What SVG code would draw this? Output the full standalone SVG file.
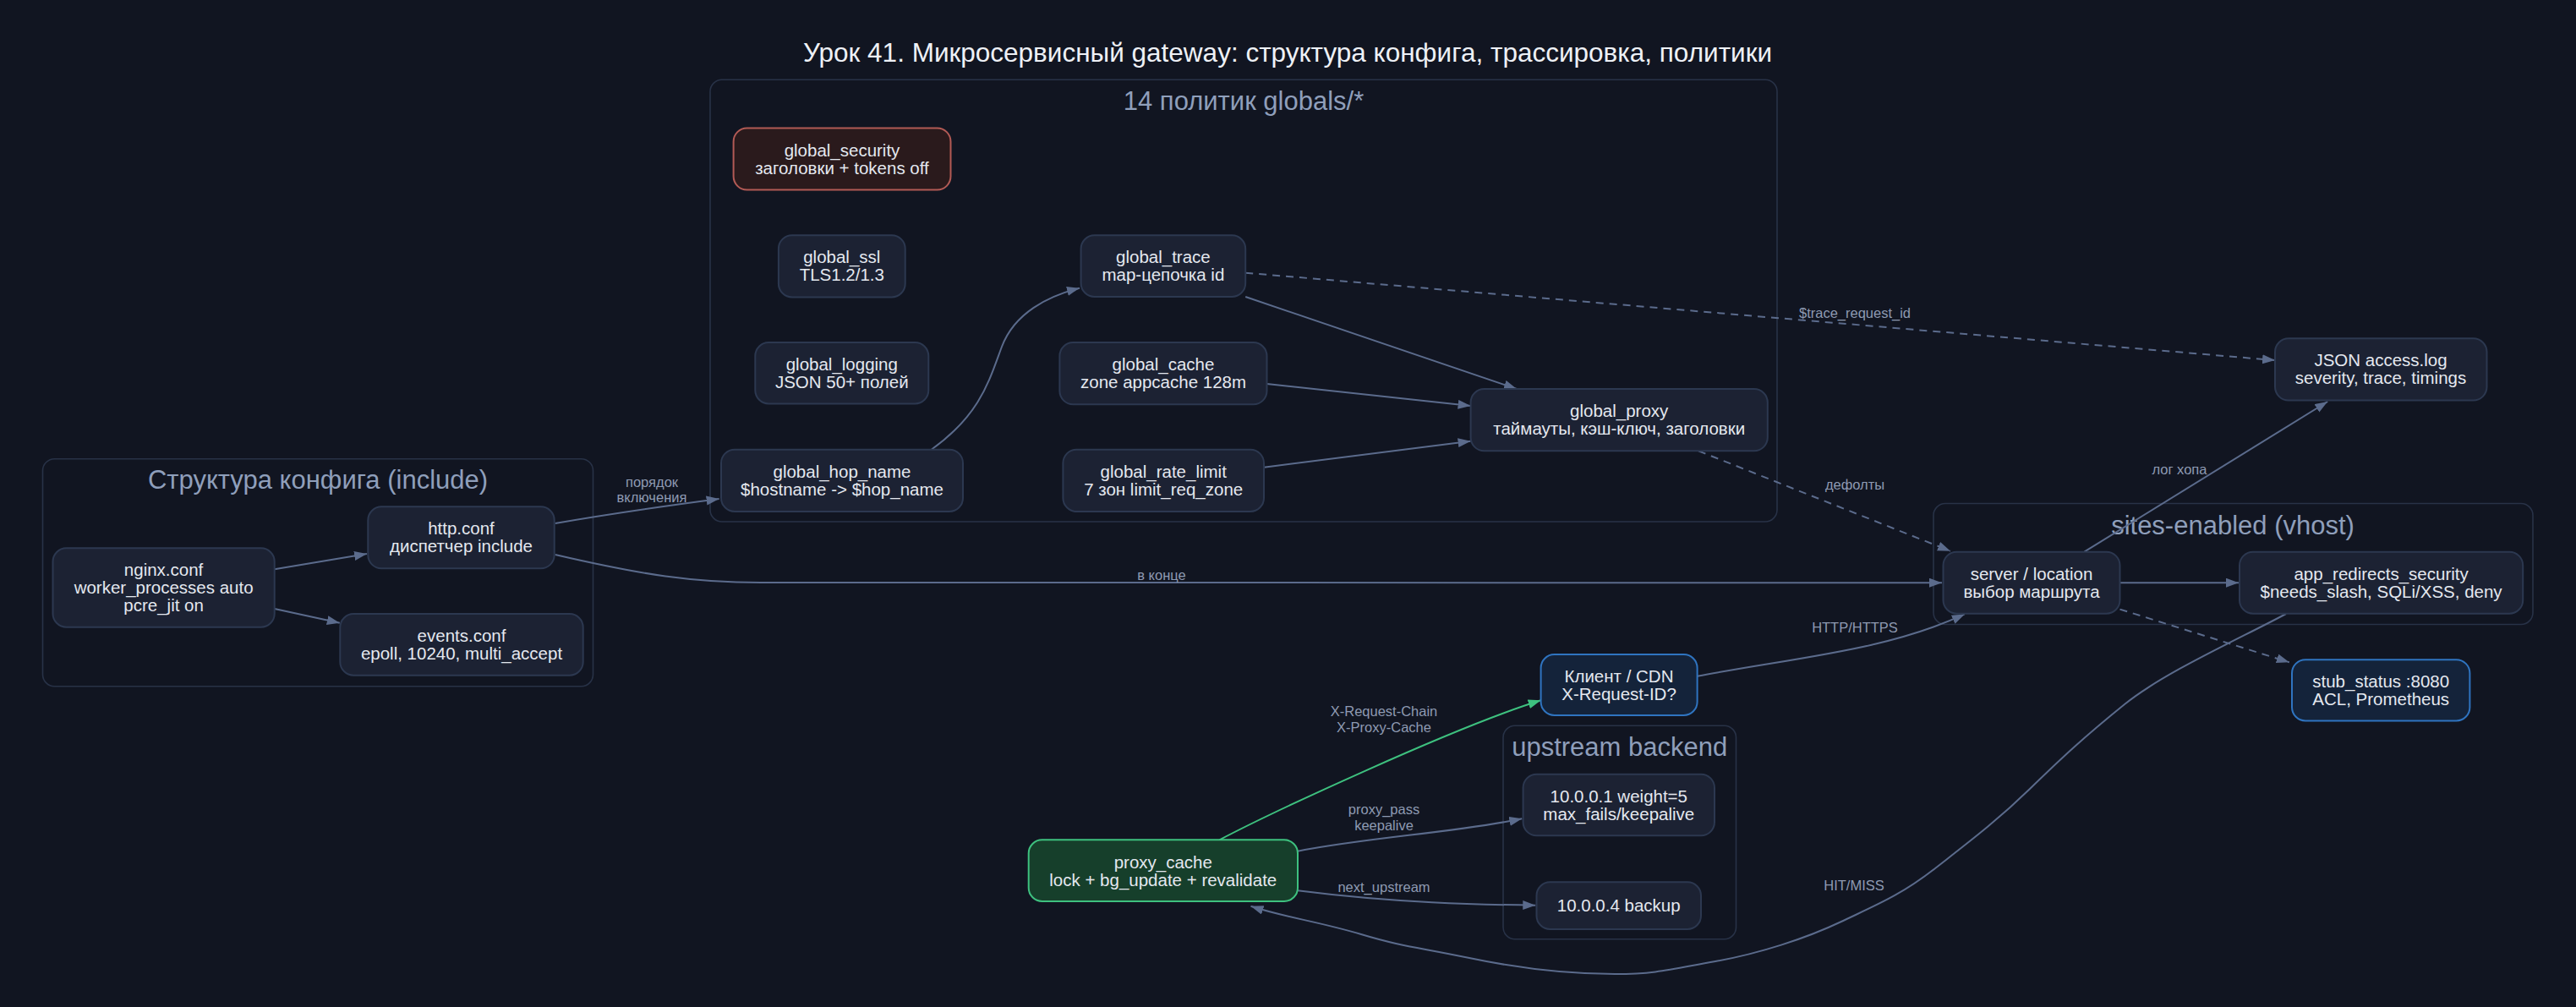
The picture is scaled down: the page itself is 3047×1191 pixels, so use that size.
<svg xmlns="http://www.w3.org/2000/svg" width="3047" height="1191" viewBox="0 0 3047 1191">
<defs>
<style>
.bg{fill:#111521}
.cl{fill:#111521;stroke:#283247;stroke-width:1.6}
.ct{font-family:"Liberation Sans",Arial,sans-serif;font-size:31px;fill:#8f9fbb;text-anchor:middle}
.n rect{fill:#1c2233;stroke:#2c3850;stroke-width:2}
.n text,.t{font-family:"Liberation Sans",Arial,sans-serif;font-size:20.5px;fill:#e4e8ef;text-anchor:middle}
.sec rect{fill:#2a1a1c;stroke:#b25a55}
.grn rect{fill:#163f2b;stroke:#3ec17f}
.blu rect{fill:#14233a;stroke:#2f74c0}
.e{fill:none;stroke:#5b6b8c;stroke-width:2}
.d{stroke-dasharray:9,7}
.g{stroke:#3ec17f}
.l{font-family:"Liberation Sans",Arial,sans-serif;font-size:16.5px;fill:#8e9ab2;text-anchor:middle}
.title{font-family:"Liberation Sans",Arial,sans-serif;font-size:31.5px;fill:#eef1f6;text-anchor:middle}
</style>
<marker id="a" markerUnits="userSpaceOnUse" markerWidth="16" markerHeight="12" refX="15" refY="5.5" orient="auto"><path d="M0,0 L15,5.5 L0,11 z" fill="#5b6b8c"/></marker>
<marker id="ag" markerUnits="userSpaceOnUse" markerWidth="16" markerHeight="12" refX="15" refY="5.5" orient="auto"><path d="M0,0 L15,5.5 L0,11 z" fill="#3ec17f"/></marker>
</defs>
<rect class="bg" x="0" y="0" width="3047" height="1191"/>
<text class="title" x="1523" y="73">Урок 41. Микросервисный gateway: структура конфига, трассировка, политики</text>

<g id="cluster-include"><rect class="cl" x="50.5" y="542.7" width="651" height="269" rx="14"/><text class="ct" x="376" y="578">Структура конфига (include)</text></g>
<g id="cluster-globals"><rect class="cl" x="840" y="94.3" width="1262" height="522.7" rx="14"/><text class="ct" x="1471" y="130">14 политик globals/*</text></g>
<g id="cluster-sites"><rect class="cl" x="2287" y="595.5" width="709" height="143" rx="14"/><text class="ct" x="2641" y="632">sites-enabled (vhost)</text></g>
<g id="cluster-upstream"><rect class="cl" x="1778" y="858.3" width="275.5" height="252.4" rx="14"/><text class="ct" x="1915.7" y="894">upstream backend</text></g>

<g id="edges">
<path class="e" marker-end="url(#a)" d="M324.7,673.3 L434,655"/>
<path class="e" marker-end="url(#a)" d="M324.7,720 L401.8,736.7"/>
<path class="e" marker-end="url(#a)" d="M656.7,619 C720,608 790,598 850.6,590"/>
<text class="l" x="771" y="576">порядок</text><text class="l" x="771" y="594">включения</text>
<path class="e" marker-end="url(#a)" d="M656.7,656 C760,680 820,689 900,689 L2297,689.2"/>
<text class="l" x="1374" y="686">в конце</text>
<path class="e" marker-end="url(#a)" d="M1101.7,531.7 C1160,490 1170,450 1185,410 C1200,370 1240,350 1277,340.7"/>
<path class="e" marker-end="url(#a)" d="M1473.2,351 L1794,460"/>
<path class="e" marker-end="url(#a)" d="M1498.5,454 L1739.6,480"/>
<path class="e" marker-end="url(#a)" d="M1495,552.7 L1739.6,521.7"/>
<path class="e d" marker-end="url(#a)" d="M1473.2,322.7 L2691,426.1"/>
<text class="l" x="2194" y="376">$trace_request_id</text>
<path class="e d" marker-end="url(#a)" d="M2009,533.3 L2307,651.7"/>
<text class="l" x="2194" y="579">дефолты</text>
<path class="e" marker-end="url(#a)" d="M2465.4,652.7 L2753.2,475"/>
<text class="l" x="2578" y="561">лог хопа</text>
<path class="e" marker-end="url(#a)" d="M2507.5,689.2 L2648,689.2"/>
<path class="e d" marker-end="url(#a)" d="M2507.5,720.6 L2707.8,783.3"/>
<path class="e" marker-end="url(#a)" d="M2007.6,799.8 C2120,778 2230,770 2323.8,726.4"/>
<text class="l" x="2194" y="748">HTTP/HTTPS</text>
<path class="e" marker-end="url(#a)" d="M2704,726 C2650,755 2560,795 2513,833 S2440,895 2401,933 S2330,995 2289,1027 S2220,1070 2178,1090 S2080,1128 2029,1137 S1960,1152 1910,1152 S1800,1146 1738,1133 S1660,1120 1610,1105 S1520,1085 1479.5,1071.7"/>
<text class="l" x="2193" y="1053">HIT/MISS</text>
<path class="e g" marker-end="url(#ag)" d="M1442.5,993.3 C1500,963 1720,860 1822.6,828.3"/>
<text class="l" x="1637" y="847">X-Request-Chain</text><text class="l" x="1637" y="866">X-Proxy-Cache</text>
<path class="e" marker-end="url(#a)" d="M1535,1006.7 C1620,990 1720,985 1800.3,968.3"/>
<text class="l" x="1637" y="963">proxy_pass</text><text class="l" x="1637" y="982">keepalive</text>
<path class="e" marker-end="url(#a)" d="M1535,1053.3 C1650,1068 1750,1070 1816.3,1070.7"/>
<text class="l" x="1637" y="1055">next_upstream</text>
</g>

<g id="nginx_conf" class="n"><rect x="62.5" y="648.3" width="262.2" height="93.4" rx="16"/><text x="193.6" y="681">nginx.conf</text><text x="193.6" y="702">worker_processes auto</text><text x="193.6" y="723">pcre_jit on</text></g>
<g id="http_conf" class="n"><rect x="435.3" y="599.3" width="220.4" height="73" rx="16"/><text x="545.5" y="632">http.conf</text><text x="545.5" y="653">диспетчер include</text></g>
<g id="events_conf" class="n"><rect x="402.3" y="726" width="287.4" height="72.7" rx="16"/><text x="546" y="759">events.conf</text><text x="546" y="780">epoll, 10240, multi_accept</text></g>
<g id="global_security" class="n sec"><rect x="867.6" y="151.4" width="256.9" height="73.2" rx="16"/><text x="996" y="185">global_security</text><text x="996" y="206">заголовки + tokens off</text></g>
<g id="global_ssl" class="n"><rect x="920.9" y="278.2" width="149.8" height="73.2" rx="16"/><text x="995.8" y="311">global_ssl</text><text x="995.8" y="332">TLS1.2/1.3</text></g>
<g id="global_logging" class="n"><rect x="893.3" y="405" width="205" height="72.5" rx="16"/><text x="995.8" y="438">global_logging</text><text x="995.8" y="459">JSON 50+ полей</text></g>
<g id="global_hop_name" class="n"><rect x="853" y="531.7" width="286" height="73.3" rx="16"/><text x="996" y="565">global_hop_name</text><text x="996" y="586">$hostname -&gt; $hop_name</text></g>
<g id="global_trace" class="n"><rect x="1278.6" y="278.3" width="194.6" height="72.7" rx="16"/><text x="1375.9" y="311">global_trace</text><text x="1375.9" y="332">map-цепочка id</text></g>
<g id="global_cache" class="n"><rect x="1253.4" y="405" width="245.1" height="73.3" rx="16"/><text x="1376" y="438">global_cache</text><text x="1376" y="459">zone appcache 128m</text></g>
<g id="global_rate_limit" class="n"><rect x="1257.4" y="531.7" width="237.6" height="73.3" rx="16"/><text x="1376.2" y="565">global_rate_limit</text><text x="1376.2" y="586">7 зон limit_req_zone</text></g>
<g id="global_proxy" class="n"><rect x="1739.6" y="460" width="351.2" height="73.3" rx="16"/><text x="1915.2" y="493">global_proxy</text><text x="1915.2" y="514">таймауты, кэш-ключ, заголовки</text></g>
<g id="json_access_log" class="n"><rect x="2691" y="400.3" width="250.5" height="73.3" rx="16"/><text x="2816" y="433">JSON access.log</text><text x="2816" y="454">severity, trace, timings</text></g>
<g id="server_location" class="n"><rect x="2298.5" y="652.7" width="209" height="73" rx="16"/><text x="2403" y="686">server / location</text><text x="2403" y="707">выбор маршрута</text></g>
<g id="app_redirects_security" class="n"><rect x="2649" y="652.7" width="335.2" height="73" rx="16"/><text x="2816.6" y="686">app_redirects_security</text><text x="2816.6" y="707">$needs_slash, SQLi/XSS, deny</text></g>
<g id="stub_status" class="n blu"><rect x="2711" y="780.2" width="210.4" height="72.3" rx="16"/><text x="2816.2" y="813">stub_status :8080</text><text x="2816.2" y="834">ACL, Prometheus</text></g>
<g id="client_cdn" class="n blu"><rect x="1822.6" y="774" width="185" height="72" rx="16"/><text x="1915" y="807">Клиент / CDN</text><text x="1915" y="828">X-Request-ID?</text></g>
<g id="backend_1" class="n"><rect x="1801.6" y="915.7" width="226.4" height="72.6" rx="16"/><text x="1914.8" y="949">10.0.0.1 weight=5</text><text x="1914.8" y="970">max_fails/keepalive</text></g>
<g id="backend_4" class="n"><rect x="1817.5" y="1043.3" width="194.5" height="55.7" rx="16"/><text x="1914.7" y="1078">10.0.0.4 backup</text></g>
<g id="proxy_cache" class="n grn"><rect x="1216.7" y="993.3" width="318.3" height="72.7" rx="16"/><text x="1375.8" y="1027">proxy_cache</text><text x="1375.8" y="1048">lock + bg_update + revalidate</text></g>
</svg>
